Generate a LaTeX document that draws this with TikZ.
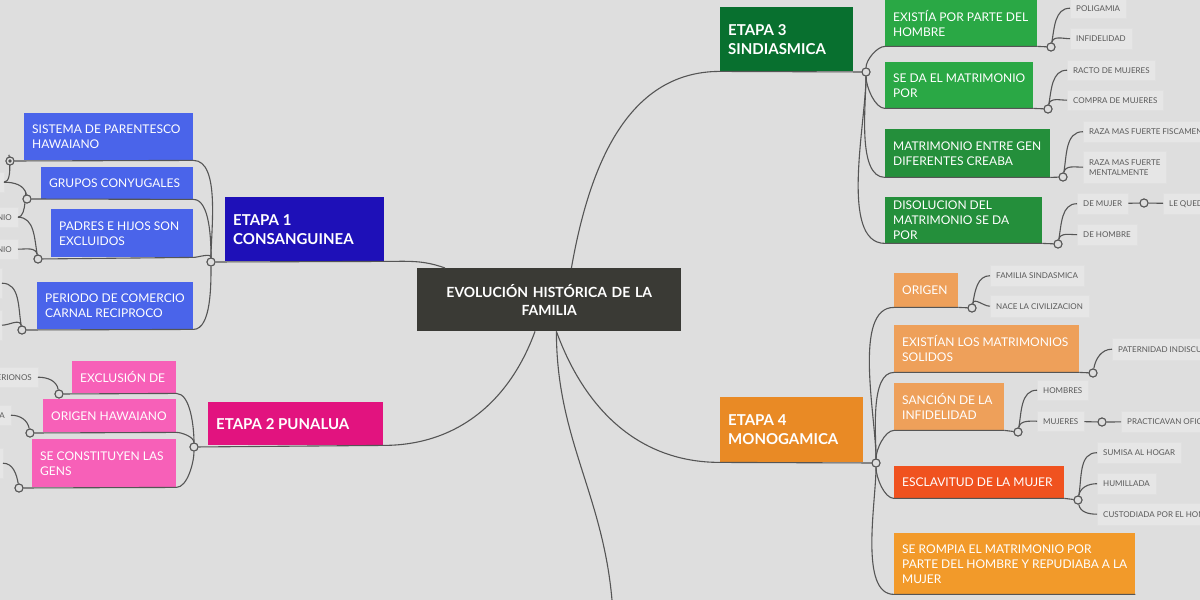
\documentclass[tikz,border=0pt]{standalone}
\usepackage{fontspec}
\setmainfont{Lato}
\usetikzlibrary{positioning,calc}

\definecolor{bg}{HTML}{DEDEDE}
\definecolor{linec}{HTML}{555555}
\definecolor{rootc}{HTML}{3A3A35}
\definecolor{blueA}{HTML}{1E10B8}
\definecolor{blueB}{HTML}{4A64EA}
\definecolor{pinkA}{HTML}{E2137F}
\definecolor{pinkB}{HTML}{F760B8}
\definecolor{greenA}{HTML}{08702F}
\definecolor{greenB}{HTML}{2AA845}
\definecolor{orangeA}{HTML}{E98A25}
\definecolor{orangeB}{HTML}{EEA05A}
\definecolor{redB}{HTML}{F0521F}
\definecolor{orangeC}{HTML}{F29A2A}
\definecolor{leafc}{HTML}{E6E6E6}

\tikzset{
	box/.style 2 args={rectangle,anchor=north west,fill=#2,text=white,align=flush left,
		inner sep=0pt,minimum width=#1,text width=#1-16pt,minimum height=10pt},
	leaf/.style={rectangle,anchor=north west,fill=leafc,draw=black!12,text=black!65,
		align=flush left,inner xsep=6pt,inner ysep=0pt,font=\fontsize{8}{10}\selectfont},
	link/.style={draw=linec,line width=1.1pt},
	knot/.style={circle,draw=linec,fill=bg,line width=1pt,inner sep=0pt,minimum size=8pt},
}

\begin{document}
\begin{tikzpicture}[x=1pt,y=-1pt]
	
	\fill [bg] (0,0) rectangle (1200,600);
	\useasboundingbox (0,0) rectangle (1200,600);
	\clip (0,0) rectangle (1200,600);
	
	%%%%%%%%%%%%%%%%%%%%%%%%%%%%%%%%%%%%%%%%%%%%%%%%%%%%%%
	
	\node [box={264pt}{rootc},minimum height=63pt,align=center,font=\bfseries\fontsize{14}{18}\selectfont,text width=240pt] (root) at (417,268) {EVOLUCIÓN HISTÓRICA DE LA\\FAMILIA};
	\node [box={159pt}{blueA},minimum height=64pt,font=\bfseries\fontsize{15}{19}\selectfont] (etapa-1) at (225,197) {ETAPA 1\\CONSANGUINEA};
	\node [box={175pt}{pinkA},minimum height=43pt,font=\bfseries\fontsize{15}{19}\selectfont] (etapa-2) at (208,402) {ETAPA 2 PUNALUA};
	\node [box={133pt}{greenA},minimum height=64pt,font=\bfseries\fontsize{15}{19}\selectfont] (etapa-3) at (720,7) {ETAPA 3\\SINDIASMICA};
	\node [box={143pt}{orangeA},minimum height=65pt,font=\bfseries\fontsize{15}{19}\selectfont] (etapa-4) at (720,397) {ETAPA 4\\MONOGAMICA};
	
	\node [knot] (hub-1) at (211,262) {};
	\node [knot] (hub-2) at (194,447) {};
	\node [knot] (hub-3) at (866,72) {};
	\node [knot] (hub-4) at (876,463) {};
	\coordinate (down) at (612,600);
	
	\draw [link] (root.north east) ++(-110,0) to[out=80,in=180] (etapa-3.south west) -- (hub-3);
	\draw [link] (root.south east) ++(-125,0) to[out=-70,in=180] (etapa-4.south west) -- (hub-4);
	\draw [link] (root.north west) ++(28,0) to[out=160,in=0] (etapa-1.south east) -- (hub-1);
	\draw [link] (root.south west) ++(118,0) to[out=-110,in=0] (etapa-2.south east) -- (hub-2);
	\draw [link] (root.south east) ++(-125,0) to[out=-90,in=95] (down);
	
	%%%%%%%%%%%%%%%%%%%%%%%%%%%%%%%%%%%%%%%%%%%%%%%%%%%%%%
	
	\tikzset{every node/.append style={font=\fontsize{12}{15}\selectfont}}
	
	\node [box={169pt}{blueB},minimum height=47pt] (sistema) at (24,113) {SISTEMA DE PARENTESCO HAWAIANO};
	\node [box={152pt}{blueB},minimum height=32pt] (grupos) at (41,167) {GRUPOS CONYUGALES};
	\node [box={142pt}{blueB},minimum height=48pt] (padres) at (51,209) {PADRES E HIJOS SON EXCLUIDOS};
	\node [box={156pt}{blueB},minimum height=47pt] (periodo) at (37,282) {PERIODO DE COMERCIO CARNAL RECIPROCO};
	
	\node [knot] (k-sistema) at (10,161) {};
	\node [knot] (k-grupos) at (27,199) {};
	\node [knot] (k-padres) at (38,259) {};
	\node [knot] (k-periodo) at (22,330) {};
	
	\node [leaf,anchor=north east,minimum height=20pt] (g-1) at (4,172) {S};
	\node [leaf,anchor=north east,minimum height=20pt] (g-2) at (18,207) {NIO};
	\node [leaf,anchor=north east,minimum height=20pt] (g-3) at (18,239) {NIO};
	\node [leaf,anchor=north east,minimum height=30pt] (g-4) at (2,268) {};
	\node [leaf,anchor=north east,minimum height=30pt] (g-5) at (2,310) {};
	
	\node [box={104pt}{pinkB},minimum height=32pt] (exclusion) at (72,361) {EXCLUSIÓN DE};
	\node [box={133pt}{pinkB},minimum height=33pt] (origen-h) at (43,399) {ORIGEN HAWAIANO};
	\node [box={144pt}{pinkB},minimum height=48pt] (gens) at (32,439) {SE CONSTITUYEN LAS GENS};
	
	\node [knot] (k-exclusion) at (59,394) {};
	\node [knot] (k-origen-h) at (30,433) {};
	\node [knot] (k-gens) at (19,488) {};
	
	\node [leaf,anchor=north east,minimum height=20pt] (g-6) at (38,367) {ERIONOS};
	\node [leaf,anchor=north east,minimum height=20pt] (g-7) at (11,405) {A};
	\node [leaf,anchor=north east,minimum height=30pt] (g-8) at (3,448) {};
	
	%%%%%%%%%%%%%%%%%%%%%%%%%%%%%%%%%%%%%%%%%%%%%%%%%%%%%%
	
	\node [box={152pt}{greenB},minimum height=46pt] (existia) at (885,0) {EXISTÍA POR PARTE DEL HOMBRE};
	\node [box={148pt}{greenB},minimum height=46pt] (se-da) at (885,62) {SE DA EL MATRIMONIO POR};
	\node [box={165pt}{greenB!85!black},minimum height=48pt] (entre-gen) at (885,129) {MATRIMONIO ENTRE GEN DIFERENTES CREABA};
	\node [box={157pt}{greenB!85!black},minimum height=46pt] (disolucion) at (885,197) {DISOLUCION DEL MATRIMONIO SE DA POR};
	
	\node [knot] (k-existia) at (1051,47) {};
	\node [knot] (k-se-da) at (1048,109) {};
	\node [knot] (k-entre-gen) at (1063,177) {};
	\node [knot] (k-disolucion) at (1058,244) {};
	
	\node [leaf,minimum height=20pt] (poligamia) at (1070,-2) {POLIGAMIA};
	\node [leaf,minimum height=21pt] (infidelidad) at (1070,28) {INFIDELIDAD};
	\node [leaf,minimum height=20pt] (racto) at (1067,60) {RACTO DE MUJERES};
	\node [leaf,minimum height=20pt] (compra) at (1067,90) {COMPRA DE MUJERES};
	\node [leaf,minimum height=21pt] (fiscame) at (1083,121) {RAZA MAS FUERTE FISCAMENTE};
	\node [leaf,minimum height=32pt] (mental) at (1083,151) {RAZA MAS FUERTE\\MENTALMENTE};
	\node [leaf,minimum height=21pt] (de-mujer) at (1077,193) {DE MUJER};
	\node [knot] (k-de-mujer) at (1144,203) {};
	\node [leaf,minimum height=21pt] (le-que) at (1163,193) {LE QUEDA};
	\node [leaf,minimum height=21pt] (de-hombre) at (1077,224) {DE HOMBRE};
	
	%%%%%%%%%%%%%%%%%%%%%%%%%%%%%%%%%%%%%%%%%%%%%%%%%%%%%%
	
	\node [box={64pt}{orangeB},minimum height=34pt] (origen) at (894,273) {ORIGEN};
	\node [box={185pt}{orangeB},minimum height=47pt] (solidos) at (894,325) {EXISTÍAN LOS MATRIMONIOS SOLIDOS};
	\node [box={110pt}{orangeB},minimum height=47pt] (sancion) at (894,383) {SANCIÓN DE LA INFIDELIDAD};
	\node [box={170pt}{redB},minimum height=32pt] (esclavitud) at (894,466) {ESCLAVITUD DE LA MUJER};
	\node [box={241pt}{orangeC},minimum height=61pt] (rompia) at (894,533) {SE ROMPIA EL MATRIMONIO POR PARTE DEL HOMBRE Y REPUDIABA A LA MUJER};
	
	\node [knot] (k-origen) at (972,308) {};
	\node [knot] (k-solidos) at (1093,373) {};
	\node [knot] (k-sancion) at (1018,432) {};
	\node [knot] (k-esclavitud) at (1078,500) {};
	
	\node [leaf,minimum height=21pt] (sindasmica) at (990,265) {FAMILIA SINDASMICA};
	\node [leaf,minimum height=22pt] (civilizacion) at (990,295) {NACE LA CIVILIZACION};
	\node [leaf,minimum height=22pt] (paternidad) at (1112,338) {PATERNIDAD INDISCUTIBLE};
	\node [leaf,minimum height=20pt] (hombres) at (1037,380) {HOMBRES};
	\node [leaf,minimum height=20pt] (mujeres) at (1037,411) {MUJERES};
	\node [knot] (k-mujeres) at (1102,422) {};
	\node [leaf,minimum height=21pt] (practicavan) at (1121,411) {PRACTICAVAN OFICIOS};
	\node [leaf,minimum height=21pt] (sumisa) at (1097,442) {SUMISA AL HOGAR};
	\node [leaf,minimum height=21pt] (humillada) at (1097,473) {HUMILLADA};
	\node [leaf,minimum height=22pt] (custodiada) at (1097,503) {CUSTODIADA POR EL HOMBRE};
	
	%%%%%%%%%%%%%%%%%%%%%%%%%%%%%%%%%%%%%%%%%%%%%%%%%%%%%%
	
	\begin{scope}[link]
		\foreach \hub/\kid/\dir in {hub-1/sistema/90,hub-1/grupos/90,hub-1/padres/90,hub-1/periodo/-90,
			hub-2/exclusion/90,hub-2/origen-h/90,hub-2/gens/-90}
		\draw (\hub) to[out=\dir,in=0,looseness=0.7] (\kid.south east) -- (k-\kid);
		\foreach \hub/\kid/\dir in {hub-3/existia/90,hub-3/se-da/-90,hub-3/entre-gen/-90,hub-3/disolucion/-90,
			hub-4/origen/90,hub-4/solidos/90,hub-4/sancion/90,hub-4/esclavitud/-90,hub-4/rompia/-90}
		\draw (\hub) to[out=\dir,in=180,looseness=0.7] (\kid.south west) -- (\kid.south east);
		\foreach \kid in {existia,se-da,entre-gen,disolucion,origen,solidos,sancion,esclavitud}
		\draw (\kid.south east) -- (k-\kid);
		\foreach \knot/\lf in {sistema/g-1,grupos/g-1,grupos/g-2,padres/g-2,padres/g-3,periodo/g-4,periodo/g-5,
			exclusion/g-6,origen-h/g-7,gens/g-8}
		\draw (k-\knot) to[out=100,in=0] (\lf.east);
		\foreach \knot/\lf in {existia/poligamia,existia/infidelidad,se-da/racto,se-da/compra,
			entre-gen/fiscame,entre-gen/mental,disolucion/de-mujer,disolucion/de-hombre,
			origen/sindasmica,origen/civilizacion,solidos/paternidad,sancion/hombres,sancion/mujeres,
			esclavitud/sumisa,esclavitud/humillada}
		\draw (k-\knot) to[out=80,in=180] (\lf.west);
		\draw (k-esclavitud) to[out=-80,in=180] (custodiada.west);
		\draw (de-mujer) -- (k-de-mujer) -- (le-que);
		\draw (mujeres) -- (k-mujeres) -- (practicavan);
	\end{scope}
	
	\foreach \k in {hub-1,hub-2,hub-3,hub-4,k-sistema,k-grupos,k-padres,k-periodo,k-exclusion,k-origen-h,k-gens,
		k-existia,k-se-da,k-entre-gen,k-disolucion,k-de-mujer,k-origen,k-solidos,k-sancion,k-esclavitud,k-mujeres}
	\node [knot] at (\k) {};
	\fill [linec] (k-sistema) circle (1.8pt);
	
\end{tikzpicture}
\end{document}
